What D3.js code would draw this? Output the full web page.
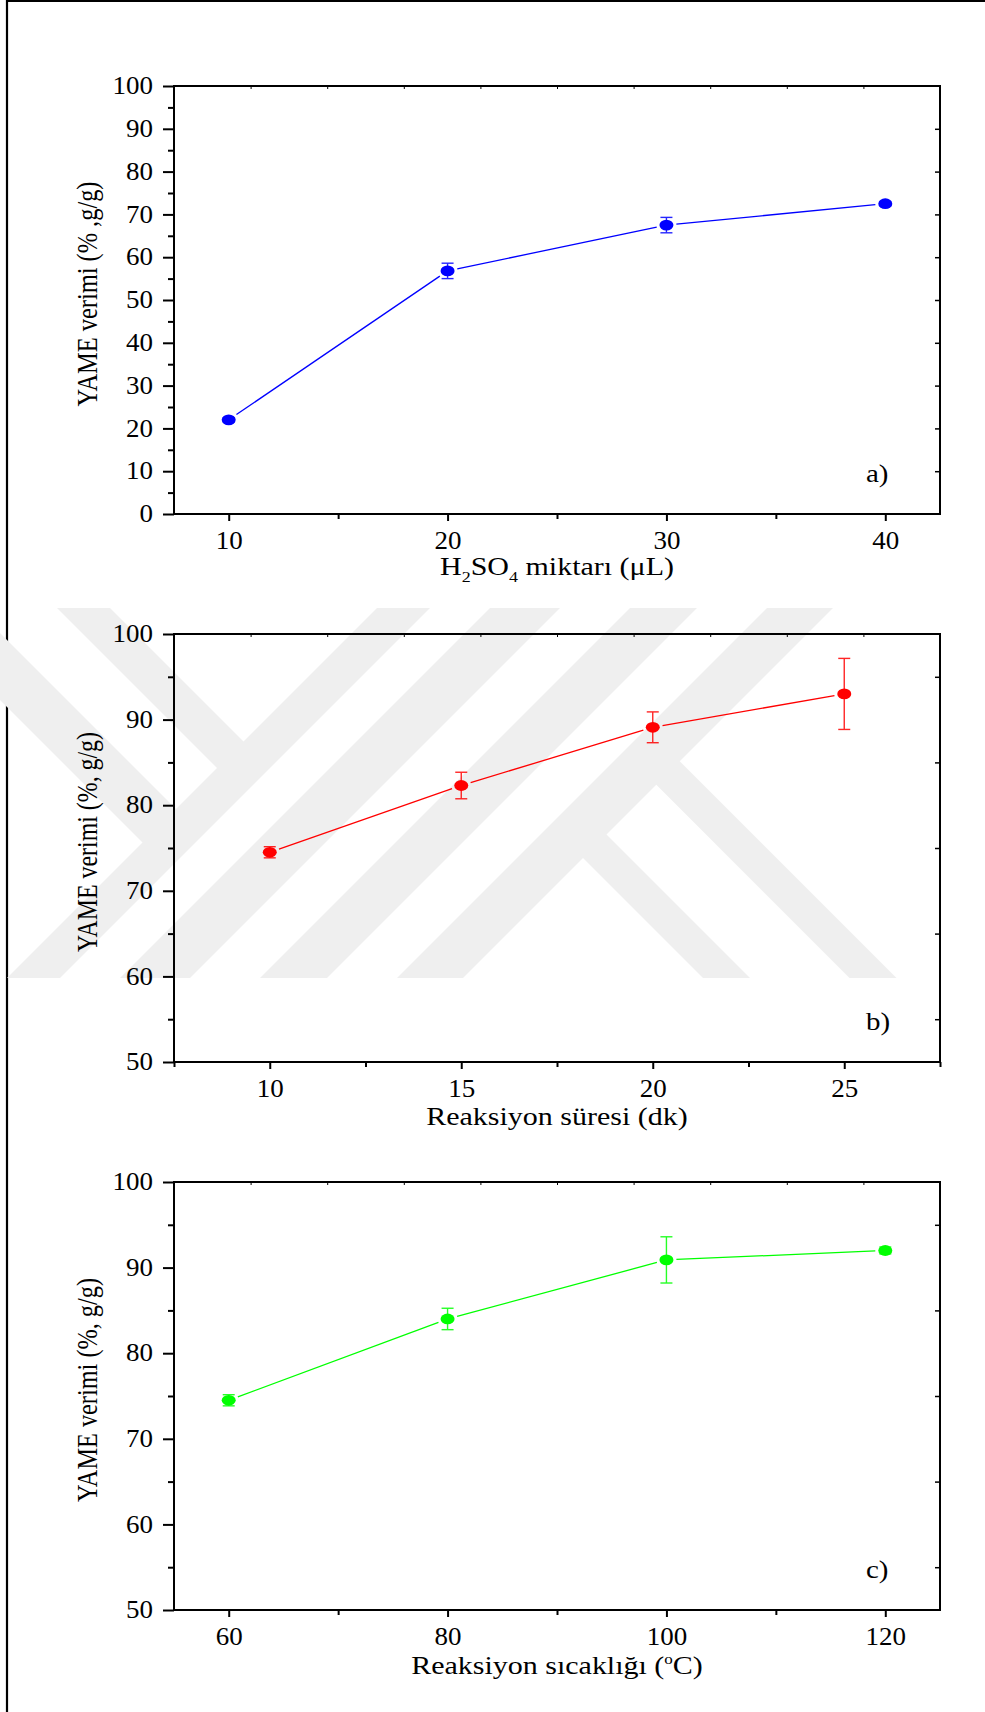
<!DOCTYPE html>
<html>
<head>
<meta charset="utf-8">
<script src="https://cdn.jsdelivr.net/npm/d3@7"></script>
<style>
  body { margin: 0; background: #fff; }
  svg { display: block; }
  svg text { font-family: "Liberation Serif", "Times New Roman", serif; }
  .squash { transform-box: fill-box; transform-origin: center; transform: scaleY(0.9); }
</style>
</head>
<body>
<svg id="fig" width="985" height="1712"></svg>
<script>
// ---- data: (a) H2SO4 amount ----
const acidAmounts = [10, 20, 30, 40];
const acidYield   = [22.0, 56.8, 67.5, 72.5];
const acidErr     = [0.5, 1.8, 1.8, 0.5];

// ---- data: (b) reaction time ----
const reactionTimes = [10, 15, 20, 25];
const timeYield     = [74.5, 82.3, 89.1, 93.0];
const timeErr       = [0.65, 1.55, 1.8, 4.15];

// ---- data: (c) reaction temperature ----
const reactionTemps = [60, 80, 100, 120];
const tempYield     = [74.5, 84.0, 90.9, 92.0];
const tempErr       = [0.65, 1.25, 2.7, 0.4];

// ---- tick values ----
const acidTicks  = [10, 20, 30, 40];
const acidMinor  = [15, 25, 35];
const timeTicks  = [10, 15, 20, 25];
const timeMinor  = [7.5, 12.5, 17.5, 22.5, 27.5];
const tempTicks  = [60, 80, 100, 120];
const tempMinor  = [70, 90, 110];
const yTicksFull  = [0, 10, 20, 30, 40, 50, 60, 70, 80, 90, 100];
const yMinorFull  = [5, 15, 25, 35, 45, 55, 65, 75, 85, 95];
const yTicksUpper = [50, 60, 70, 80, 90, 100];
const yMinorUpper = [55, 65, 75, 85, 95];

const SERIF = "Liberation Serif";
const svg = d3.select("#fig");
const left = 174, right = 940, plotH = 428;

// page frame
svg.append("line").attr("x1", 7).attr("x2", 7).attr("y1", 0).attr("y2", 1712)
  .attr("stroke", "#000").attr("stroke-width", 2.2);
svg.append("line").attr("x1", 6).attr("x2", 985).attr("y1", 1).attr("y2", 1)
  .attr("stroke", "#000").attr("stroke-width", 2.2);

// light grey background emblem behind the middle plot
const emblem = svg.append("g").attr("fill", "#efefef");
function band(xl, xr, yTop, yBot, dir) {
  const d = dir * (yBot - yTop);
  return [[xl, yTop], [xr, yTop], [xr + d, yBot], [xl + d, yBot]];
}
const emblemShapes = [
  band(377, 430, 608, 978, -1),
  band(490, 560, 608, 978, -1),
  band(630, 697, 608, 978, -1),
  band(767, 833, 608, 978, -1),
  [[57, 608], [110, 608], [270, 768], [217, 768]],
  [[-25, 608], [189, 822], [155.75, 855.75], [-92, 608]],
  [[639.6, 768], [663.25, 744.75], [896.5, 978], [849.5, 978]],
  [[566.5, 841.5], [590, 818], [750, 978], [703, 978]]
];
emblem.selectAll("polygon").data(emblemShapes).join("polygon")
  .attr("points", d => d.map(p => p.join(",")).join(" "));

const panels = [
  { top: 86, xDomain: [7.5, 42.5], xMajor: acidTicks, xMinor: acidMinor,
    yDomain: [0, 100], yMajor: yTicksFull, yMinor: yMinorFull, rightTicks: yTicksFull.slice(1, -1),
    xs: acidAmounts, ys: acidYield, errs: acidErr, color: "#0000ff",
    yTitle: "YAME verimi (% ,g/g)", titleLen: 225, tag: "a)", xTitle: "acid", xTitleBase: 61 },
  { top: 634, xDomain: [7.5, 27.5], xMajor: timeTicks, xMinor: timeMinor,
    yDomain: [50, 100], yMajor: yTicksUpper, yMinor: yMinorUpper, rightTicks: yMinorUpper,
    xs: reactionTimes, ys: timeYield, errs: timeErr, color: "#ff0000",
    yTitle: "YAME verimi (%, g/g)", titleLen: 220, tag: "b)", xTitle: "Reaksiyon süresi (dk)", xTitleBase: 63 },
  { top: 1182, xDomain: [55, 125], xMajor: tempTicks, xMinor: tempMinor,
    yDomain: [50, 100], yMajor: yTicksUpper, yMinor: yMinorUpper, rightTicks: yMinorUpper,
    xs: reactionTemps, ys: tempYield, errs: tempErr, color: "#00ff00",
    yTitle: "YAME verimi (%, g/g)", titleLen: 224, tag: "c)", xTitle: "temp", xTitleBase: 64 }
];

const RX = 7, RY = 5.4;

panels.forEach(p => {
  const bottom = p.top + plotH;
  const x = d3.scaleLinear().domain(p.xDomain).range([left, right]);
  const y = d3.scaleLinear().domain(p.yDomain).range([bottom, p.top]);
  const g = svg.append("g");

  // frame
  g.append("rect").attr("x", left).attr("y", p.top).attr("width", right - left).attr("height", plotH)
    .attr("fill", "none").attr("stroke", "#000").attr("stroke-width", 2);

  const styleAxis = (sel, w) => {
    sel.attr("font-family", SERIF);
    sel.select(".domain").remove();
    sel.selectAll(".tick line").attr("stroke", "#000").attr("stroke-width", w);
  };

  // left axis
  g.append("g").attr("transform", `translate(${left},0)`)
    .call(d3.axisLeft(y).tickValues(p.yMinor).tickSize(6).tickFormat(""))
    .call(s => styleAxis(s, 2));
  const yAx = g.append("g").attr("transform", `translate(${left},0)`)
    .call(d3.axisLeft(y).tickValues(p.yMajor).tickSize(11).tickPadding(10).tickFormat(d3.format("d")))
    .call(s => styleAxis(s, 2));
  yAx.attr("font-size", 27);
  yAx.selectAll("text").attr("fill", "#000").attr("class", "squash");

  // bottom axis
  g.append("g").attr("transform", `translate(0,${bottom})`)
    .call(d3.axisBottom(x).tickValues(p.xMinor).tickSize(5).tickFormat(""))
    .call(s => styleAxis(s, 2));
  const xAx = g.append("g").attr("transform", `translate(0,${bottom})`)
    .call(d3.axisBottom(x).tickValues(p.xMajor).tickSize(7).tickPadding(10).tickFormat(d3.format("d")))
    .call(s => styleAxis(s, 2));
  xAx.attr("font-size", 27);
  xAx.selectAll("text").attr("fill", "#000").attr("class", "squash");

  // top and right axes (inward ticks, no labels)
  const tTop = d3.scaleLinear().domain([0, 10]).range([left, right]);
  g.append("g").attr("transform", `translate(0,${p.top})`)
    .call(d3.axisTop(tTop).tickValues([1, 2, 3, 4, 5, 6, 7, 8, 9]).tickSize(-3).tickFormat(""))
    .call(s => styleAxis(s, 1));
  g.append("g").attr("transform", `translate(${right},0)`)
    .call(d3.axisRight(y).tickValues(p.rightTicks).tickSize(-5).tickFormat(""))
    .call(s => styleAxis(s, 1.5));

  // connecting line, trimmed short of each marker
  const pts = p.xs.map((v, i) => [x(v), y(p.ys[i])]);
  const gapAt = (dx, dy) => {
    const len = Math.hypot(dx, dy);
    const c = dx / len, s = dy / len;
    return 1 / Math.sqrt(c * c / (RX * RX) + s * s / (RY * RY)) + 3;
  };
  const segs = d3.pairs(pts).map(([a, b]) => {
    const dx = b[0] - a[0], dy = b[1] - a[1], len = Math.hypot(dx, dy);
    const gp = gapAt(dx, dy);
    return [[a[0] + dx / len * gp, a[1] + dy / len * gp], [b[0] - dx / len * gp, b[1] - dy / len * gp]];
  });
  g.selectAll(".seg").data(segs).join("line").attr("class", "seg")
    .attr("x1", d => d[0][0]).attr("y1", d => d[0][1])
    .attr("x2", d => d[1][0]).attr("y2", d => d[1][1])
    .attr("stroke", p.color).attr("stroke-width", 1.3);

  // error bars
  const eb = g.selectAll(".eb").data(p.xs.map((v, i) => ({ x: v, y: p.ys[i], e: p.errs[i] })))
    .join("g").attr("class", "eb").attr("stroke", p.color).attr("stroke-width", 1.4).attr("opacity", 0.85);
  eb.append("line").attr("x1", d => x(d.x)).attr("x2", d => x(d.x))
    .attr("y1", d => y(d.y + d.e)).attr("y2", d => y(d.y - d.e));
  eb.append("line").attr("x1", d => x(d.x) - 6).attr("x2", d => x(d.x) + 6)
    .attr("y1", d => y(d.y + d.e)).attr("y2", d => y(d.y + d.e));
  eb.append("line").attr("x1", d => x(d.x) - 6).attr("x2", d => x(d.x) + 6)
    .attr("y1", d => y(d.y - d.e)).attr("y2", d => y(d.y - d.e));

  // markers
  g.selectAll(".pt").data(pts).join("ellipse").attr("class", "pt")
    .attr("cx", d => d[0]).attr("cy", d => d[1]).attr("rx", RX).attr("ry", RY)
    .attr("fill", p.color);

  // y title
  g.append("text")
    .attr("transform", `translate(97,${(p.top + bottom) / 2 - 6}) rotate(-90)`)
    .attr("text-anchor", "middle").attr("font-size", 30).attr("fill", "#000")
    .attr("textLength", p.titleLen).attr("lengthAdjust", "spacingAndGlyphs")
    .text(p.yTitle);

  // x title
  const tg = g.append("g")
    .attr("transform", `translate(${(left + right) / 2},${bottom + p.xTitleBase}) scale(1,0.82)`);
  const tt = tg.append("text").attr("text-anchor", "middle").attr("font-size", 30).attr("fill", "#000");
  if (p.xTitle === "acid") {
    tt.append("tspan").text("H");
    tt.append("tspan").attr("font-size", 18).attr("dy", 8).text("2");
    tt.append("tspan").attr("dy", -8).text("SO");
    tt.append("tspan").attr("font-size", 18).attr("dy", 8).text("4");
    tt.append("tspan").attr("dy", -8).text(" miktarı (μL)");
  } else if (p.xTitle === "temp") {
    tt.append("tspan").text("Reaksiyon sıcaklığı (");
    tt.append("tspan").attr("font-size", 17).attr("dy", -12).text("o");
    tt.append("tspan").attr("dy", 12).text("C)");
  } else {
    tt.text(p.xTitle);
  }

  // panel tag
  g.append("g").attr("transform", `translate(866,${bottom - 32}) scale(1,0.85)`)
    .append("text").attr("font-size", 29).attr("fill", "#000").text(p.tag);
});
</script>
</body>
</html>
